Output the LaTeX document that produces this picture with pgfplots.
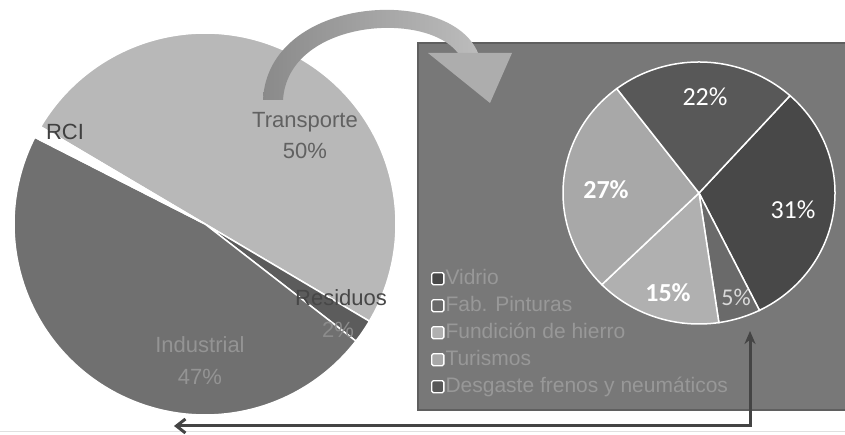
\documentclass[border=0pt]{standalone}
\usepackage{pgfplots}
\pgfplotsset{compat=1.18}
\usepackage{fontspec}
\setmainfont{Liberation Sans}
\newfontfamily\calibri{Carlito}
\usetikzlibrary{arrows.meta}

\definecolor{transp}{RGB}{184,184,184}
\definecolor{indus}{RGB}{112,112,112}
\definecolor{resid}{RGB}{92,92,92}
\definecolor{panel}{RGB}{120,120,120}
\definecolor{panelborder}{RGB}{95,95,95}
\definecolor{cvid}{RGB}{72,72,72}
\definecolor{cpin}{RGB}{106,106,106}
\definecolor{cfun}{RGB}{176,176,176}
\definecolor{ctur}{RGB}{168,168,168}
\definecolor{cdes}{RGB}{88,88,88}
\definecolor{legtext}{RGB}{152,152,152}
\definecolor{arrowdark}{RGB}{68,68,68}
\definecolor{arrowL}{RGB}{138,138,138}
\definecolor{arrowR}{RGB}{188,188,188}

\begin{document}
\begin{tikzpicture}
\begin{axis}[width=845pt, height=435pt, scale only axis, hide axis,
  xmin=0, xmax=845, ymin=0, ymax=435, clip=true, samples=120,
  legend image code/.code={\draw[#1, draw=white, line width=1.3pt, rounded corners=1.5pt] (0pt,-6pt) rectangle (12pt,6pt);},
  legend cell align=left,
  legend style={at={(428/845,169/435)}, anchor=north west, draw=none, fill=none,
    font=\fontsize{21}{21}\selectfont\color{legtext},
    nodes={inner sep=1pt, text height=15pt, text depth=4pt}, row sep=6pt}]

\fill[white] (0,0) rectangle (845,435);
\draw[black!12, line width=1pt] (0,3) -- (845,3);

% ---------------- left pie: centre (205,211), r = 191 ----------------
\pgfmathsetmacro\La{149.4}
\pgfmathsetmacro\Lb{\La-50*3.6}
\pgfmathsetmacro\Lc{\Lb-2*3.6}
\pgfmathsetmacro\Ld{\Lc-47*3.6}
\pgfmathsetmacro\Le{\Ld-1*3.6}
% Transporte 50
\addplot[fill=transp, draw=white, line width=1.5pt, domain=\Lb:\La, forget plot]
  ({205+191*cos(x)},{211+191*sin(x)}) -- (205,211) -- cycle;
% Residuos 2
\addplot[fill=resid, draw=white, line width=1.5pt, domain=\Lc:\Lb, forget plot]
  ({205+191*cos(x)},{211+191*sin(x)}) -- (205,211) -- cycle;
% Industrial 47
\addplot[fill=indus, draw=white, line width=1.5pt, domain=\Ld:\Lc, forget plot]
  ({205+191*cos(x)},{211+191*sin(x)}) -- (205,211) -- cycle;
% RCI 1
\addplot[fill=white, draw=white, line width=1.5pt, domain=\Le:\Ld, forget plot]
  ({205+191*cos(x)},{211+191*sin(x)}) -- (205,211) -- cycle;

\node[text=black!75, font=\fontsize{22}{22}\selectfont] at (65,303) {RCI};
\node[text=black!62, font=\fontsize{22}{31}\selectfont, align=center] at (305,299) {Transporte\\50\%};
\node[text=black!72, font=\fontsize{22}{22}\selectfont] at (341,137) {Residuos};
\node[text=black!45, font=\fontsize{22}{22}\selectfont] at (338,105) {2\%};
\node[text=black!42, font=\fontsize{22}{32}\selectfont, align=center] at (200,74) {Industrial\\47\%};

% ---------------- right panel ----------------
\filldraw[fill=panel, draw=panelborder, line width=2pt] (418,25) rectangle (848,392);

% ---------------- right pie: centre (699,242), rx = 136, ry = 131 ----------------
\pgfmathsetmacro\Ra{48}
\pgfmathsetmacro\Rb{\Ra-31*3.6}
\pgfmathsetmacro\Rc{\Rb-5*3.6}
\pgfmathsetmacro\Rd{\Rc-15*3.6}
\pgfmathsetmacro\Re{\Rd-27*3.6}
\pgfmathsetmacro\Rf{\Re-22*3.6}
\addplot[fill=cvid, draw=white, line width=1.5pt, domain=\Rb:\Ra]
  ({699+136*cos(x)},{242+131*sin(x)}) -- (699,242) -- cycle;
\addlegendentry{Vidrio}
\addplot[fill=cpin, draw=white, line width=1.5pt, domain=\Rc:\Rb]
  ({699+136*cos(x)},{242+131*sin(x)}) -- (699,242) -- cycle;
\addlegendentry{Fab. Pinturas}
\addplot[fill=cfun, draw=white, line width=1.5pt, domain=\Rd:\Rc]
  ({699+136*cos(x)},{242+131*sin(x)}) -- (699,242) -- cycle;
\addlegendentry{Fundición de hierro}
\addplot[fill=ctur, draw=white, line width=1.5pt, domain=\Re:\Rd]
  ({699+136*cos(x)},{242+131*sin(x)}) -- (699,242) -- cycle;
\addlegendentry{Turismos}
\addplot[fill=cdes, draw=white, line width=1.5pt, domain=\Rf:\Re]
  ({699+136*cos(x)},{242+131*sin(x)}) -- (699,242) -- cycle;
\addlegendentry{Desgaste frenos y neumáticos}

\node[text=white, font=\calibri\fontsize{26}{26}\selectfont] at (705,338) {22\%};
\node[text=white, font=\calibri\fontsize{26}{26}\selectfont] at (793,225) {31\%};
\node[text=white, font=\calibri\bfseries\fontsize{26}{26}\selectfont] at (606,245) {27\%};
\node[text=white, font=\calibri\bfseries\fontsize{26}{26}\selectfont] at (668,142) {15\%};
\node[text=white!85!black, font=\calibri\fontsize{24}{24}\selectfont] at (736,138) {5\%};

% ---------------- curved arrow ----------------
\shade[left color=arrowL, right color=arrowR]
  (263,335) .. controls (268,440) and (450,450) .. (478,382)
  -- (458,382) .. controls (425,425) and (288,415) .. (283,335) -- cycle;
\fill[arrowR!92!black] (428,382) -- (512,382) -- (490,332) -- cycle;

% ---------------- bottom arrow ----------------
\draw[arrowdark, line width=3pt, {Stealth[length=13pt,width=11pt]}-{Straight Barb[length=9pt,width=14pt]}]
  (750,104) -- (750,9) -- (174,9);
\end{axis}
\end{tikzpicture}
\end{document}
